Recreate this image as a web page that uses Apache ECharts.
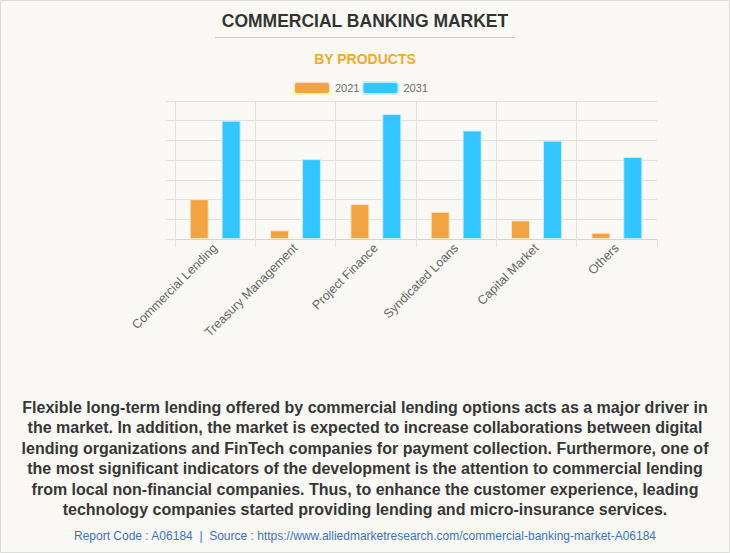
<!DOCTYPE html>
<html>
<head>
<meta charset="utf-8">
<script src="https://cdn.jsdelivr.net/npm/echarts@6/dist/echarts.min.js"></script>
<style>
html,body{margin:0;padding:0;background:#FAF9F5;}
#chart{width:730px;height:553px;}
</style>
</head>
<body>
<div id="chart"></div>
<script>
var categories = ['Commercial Lending', 'Treasury Management', 'Project Finance', 'Syndicated Loans', 'Capital Market', 'Others'];
var seriesNames = ['2021', '2031'];
var values2021 = [2.02, 0.44, 1.77, 1.38, 0.94, 0.32];
var values2031 = [6.0, 4.05, 6.34, 5.5, 4.99, 4.16];
var titleText = 'COMMERCIAL BANKING MARKET';
var subtitleText = 'BY PRODUCTS';
var paragraphLines = [
  'Flexible long-term lending offered by commercial lending options acts as a major driver in',
  'the market. In addition, the market is expected to increase collaborations between digital',
  'lending organizations and FinTech companies for payment collection. Furthermore, one of',
  'the most significant indicators of the development is the attention to commercial lending',
  'from local non-financial companies. Thus, to enhance the customer experience, leading',
  'technology companies started providing lending and micro-insurance services.'
];
var footerText = 'Report Code : A06184  |  Source : https://www.alliedmarketresearch.com/commercial-banking-market-A06184';

var chart = echarts.init(document.getElementById('chart'), null, {renderer: 'svg'});
var gridCol = '#E3E1DC';
var fam = 'Liberation Sans, Arial, sans-serif';
chart.setOption({
  backgroundColor: '#FAF9F5',
  animation: false,
  textStyle: {fontFamily: fam},
  title: [
    {text: titleText, left: 'center', top: 7,
     textStyle: {fontSize: 17.5, fontWeight: 'bold', color: '#333333', fontFamily: fam}},
    {text: subtitleText, left: 'center', top: 47,
     textStyle: {fontSize: 14, fontWeight: 'bold', color: '#F7A82B', fontFamily: fam}},
    {text: footerText, left: 'center', top: 525,
     textStyle: {fontSize: 12, fontWeight: 'normal', color: '#3D72C4', fontFamily: fam}}
  ],
  legend: {
    data: seriesNames,
    left: 293, top: 81, padding: 0,
    itemWidth: 36, itemHeight: 12, itemGap: 2,
    textStyle: {fontSize: 11, color: '#707070'}
  },
  graphic: [
    {type: 'rect', silent: true, shape: {x: 0.5, y: 0.5, width: 729, height: 552},
     style: {fill: 'none', stroke: '#DCDCDC', lineWidth: 1}},
    {type: 'line', silent: true, shape: {x1: 215, y1: 37.5, x2: 515, y2: 37.5},
     style: {stroke: '#CCCCCC', lineWidth: 1}},
    {type: 'text', silent: true, x: 365, y: 397,
     style: {text: paragraphLines.join('\n'), textAlign: 'center', textVerticalAlign: 'top',
       font: 'bold 16px "Liberation Sans", Arial, sans-serif', fill: '#363636', lineHeight: 20.5}}
  ],
  grid: {left: 175, right: 73, top: 101, bottom: 314, containLabel: false},
  xAxis: {
    type: 'category', data: categories,
    axisLine: {lineStyle: {color: '#D6D4CF'}},
    axisTick: {show: true, length: 8, lineStyle: {color: gridCol}},
    splitLine: {show: true, showMaxLine: false, lineStyle: {color: gridCol}},
    axisLabel: {rotate: 45, fontSize: 12.5, color: '#666666', margin: 7, interval: 0}
  },
  yAxis: {
    type: 'value', min: 0, max: 7, interval: 1,
    axisLine: {show: false},
    axisTick: {show: true, length: 9, lineStyle: {color: gridCol}},
    axisLabel: {show: false},
    splitLine: {show: true, lineStyle: {color: gridCol}}
  },
  series: [
    {name: seriesNames[0], type: 'bar', data: values2021, barWidth: 19, barGap: '68%',
     itemStyle: {color: '#F2A445', borderColor: 'rgba(255,235,200,0.9)', borderWidth: 1}},
    {name: seriesNames[1], type: 'bar', data: values2031, barWidth: 19,
     itemStyle: {color: '#33C5FF', borderColor: 'rgba(200,238,255,0.9)', borderWidth: 1}}
  ]
});
</script>
</body>
</html>
